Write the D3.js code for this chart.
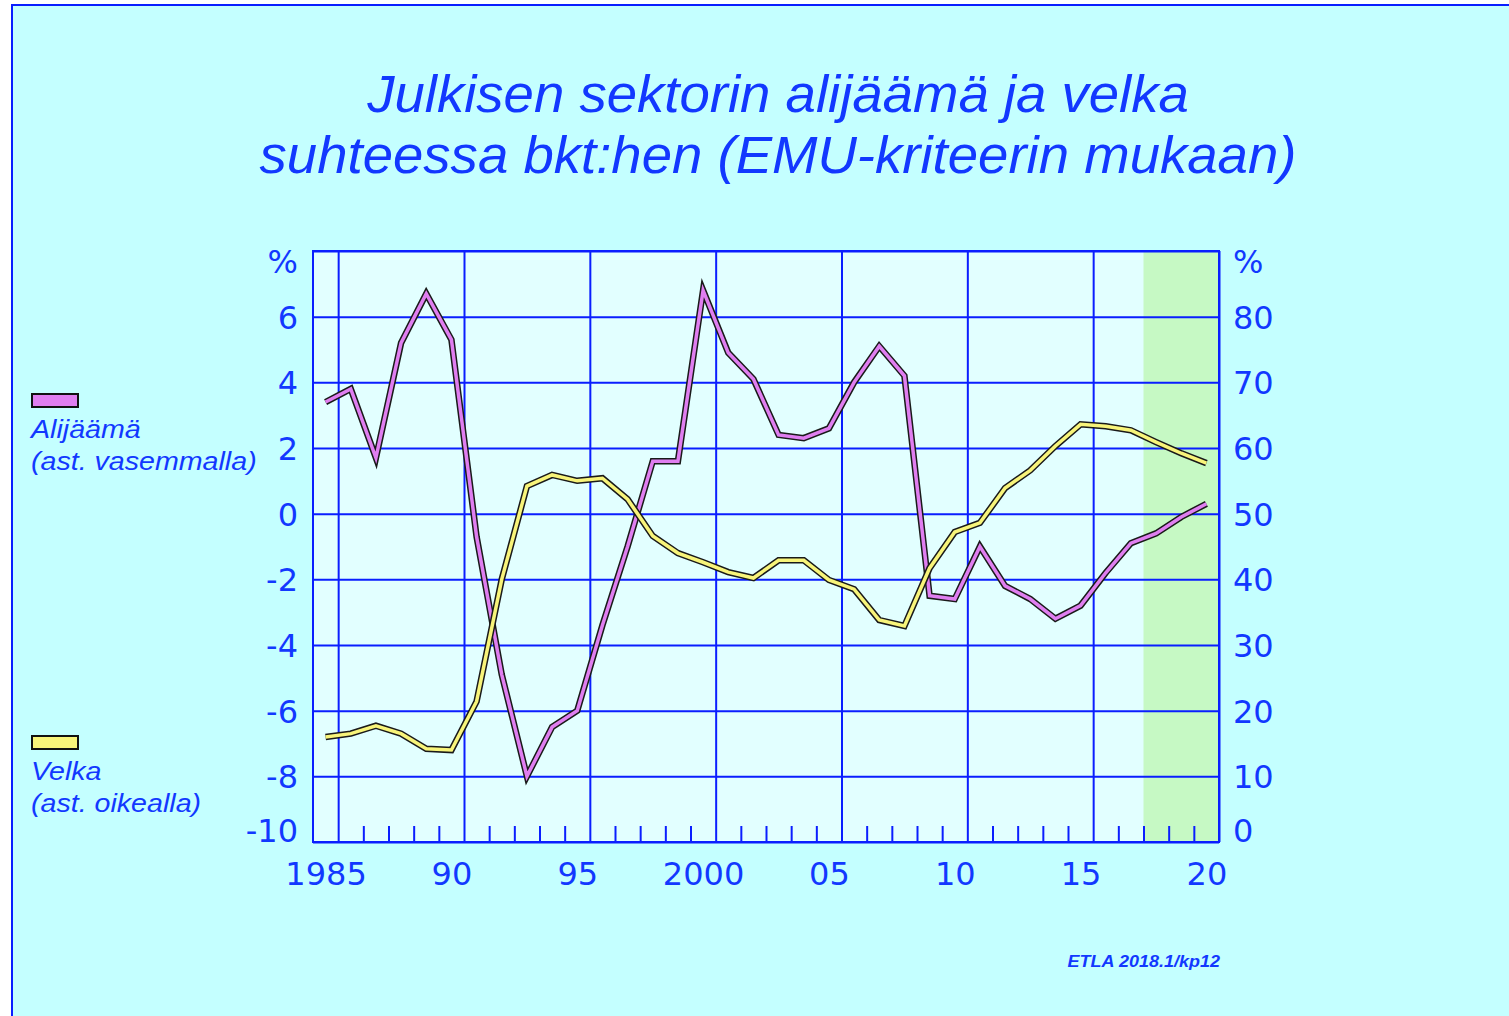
<!DOCTYPE html>
<html>
<head>
<meta charset="utf-8">
<script src="https://cdn.jsdelivr.net/npm/d3@7"></script>
<style>
  body { margin: 0; background: #ffffff; }
  svg { display: block; }
</style>
</head>
<body>
<div id="chart"></div>
<script>
const width = 1509;
const height = 1016;
const plot = { left: 313, right: 1219, top: 251, bottom: 842 };

// Data
const years = d3.range(1985, 2021);
const alijaama = [3.4, 3.8, 1.7, 5.2, 6.7, 5.3, -0.7, -4.9, -8.0, -6.5,
  -6.0, -3.4, -1.0, 1.6, 1.6, 6.8, 4.9, 4.1, 2.4, 2.3,
  2.6, 4.0, 5.1, 4.2, -2.5, -2.6, -1.0, -2.2, -2.6, -3.2,
  -2.8, -1.8, -0.9, -0.6, -0.1, 0.3];
const velka = [16.0, 16.5, 17.7, 16.5, 14.2, 14.0, 21.4, 40.0, 54.2, 55.9,
  55.0, 55.4, 52.2, 46.6, 44.0, 42.6, 41.1, 40.2, 42.9, 42.9,
  39.9, 38.5, 33.8, 32.9, 41.7, 47.2, 48.6, 53.9, 56.6, 60.3,
  63.6, 63.3, 62.7, 60.9, 59.2, 57.7];
const forecastStart = 2018;
const leftTicks = [-10, -8, -6, -4, -2, 0, 2, 4, 6, 8];
const rightTicks = [0, 10, 20, 30, 40, 50, 60, 70, 80, 90];
const yearLabels = [1985, 1990, 1995, 2000, 2005, 2010, 2015, 2020];
const titleLines = ["Julkisen sektorin alijäämä ja velka", "suhteessa bkt:hen (EMU-kriteerin mukaan)"];
const legendItems = [
  { name: "Alijäämä", note: "(ast. vasemmalla)", color: "#e07ef0" },
  { name: "Velka", note: "(ast. oikealla)", color: "#f8f47a" }
];
const source = "ETLA 2018.1/kp12";

const blue = "#0a1eff";
const textBlue = "#1238ff";
const textFont = "'Liberation Sans', Arial, sans-serif";

const svg = d3.select("#chart")
  .append("svg")
  .attr("width", width)
  .attr("height", height);

// background + frame
svg.append("rect")
  .attr("x", 12).attr("y", 5)
  .attr("width", width).attr("height", height)
  .attr("fill", "#c4ffff")
  .attr("stroke", blue).attr("stroke-width", 2);

// Scales: each year sits in the middle of its own slot
const x = d3.scaleLinear().domain([1984.5, 2020.5]).range([plot.left, plot.right]);
const yL = d3.scaleLinear().domain([-10, 8]).range([plot.bottom, plot.top]);
const yR = d3.scaleLinear().domain([0, 90]).range([plot.bottom, plot.top]);

// plot area
svg.append("rect")
  .attr("x", plot.left).attr("y", plot.top)
  .attr("width", plot.right - plot.left).attr("height", plot.bottom - plot.top)
  .attr("fill", "#e2ffff");

// forecast shading
svg.append("rect")
  .attr("x", x(forecastStart - 0.5)).attr("y", plot.top)
  .attr("width", x(2020.5) - x(forecastStart - 0.5)).attr("height", plot.bottom - plot.top)
  .attr("fill", "#c6f9c4");

// horizontal gridlines
svg.append("g")
  .attr("transform", `translate(${plot.left},0)`)
  .call(d3.axisLeft(yL).tickValues(leftTicks).tickFormat("").tickSize(-(plot.right - plot.left)))
  .call(g => g.select(".domain").remove())
  .selectAll("line").attr("stroke", blue).attr("stroke-width", 2);

// vertical gridlines every 5 years (at year ends)
svg.append("g")
  .attr("transform", `translate(0,${plot.bottom})`)
  .call(d3.axisBottom(x).tickValues(yearLabels.map(d => d + 0.5)).tickFormat("").tickSize(-(plot.bottom - plot.top)))
  .call(g => g.select(".domain").remove())
  .selectAll("line").attr("stroke", blue).attr("stroke-width", 2);

// minor year ticks
const minor = d3.range(1985.5, 2020, 1).filter(d => (d - 0.5) % 5 !== 0);
svg.append("g")
  .attr("transform", `translate(0,${plot.bottom})`)
  .call(d3.axisBottom(x).tickValues(minor).tickFormat("").tickSize(-16))
  .call(g => g.select(".domain").remove())
  .selectAll("line").attr("stroke", blue).attr("stroke-width", 2);

// frame of plot
svg.append("rect")
  .attr("x", plot.left).attr("y", plot.top)
  .attr("width", plot.right - plot.left).attr("height", plot.bottom - plot.top)
  .attr("fill", "none").attr("stroke", blue).attr("stroke-width", 2);

// lines (black outline + coloured core)
const lineL = d3.line().x((d, i) => x(years[i])).y(d => yL(d));
const lineR = d3.line().x((d, i) => x(years[i])).y(d => yR(d));
const series = [
  { path: lineL(alijaama), color: legendItems[0].color },
  { path: lineR(velka), color: legendItems[1].color }
];
series.forEach(s => {
  svg.append("path").attr("d", s.path).attr("fill", "none")
    .attr("stroke", "#1a1a1a").attr("stroke-width", 6.5).attr("stroke-linejoin", "miter");
  svg.append("path").attr("d", s.path).attr("fill", "none")
    .attr("stroke", s.color).attr("stroke-width", 3.5).attr("stroke-linejoin", "miter");
});

// axis labels
const tickFont = "'DejaVu Sans', sans-serif";
function styleLabels(g) {
  g.select(".domain").remove();
  g.selectAll("line").remove();
  g.selectAll("text")
    .attr("fill", textBlue)
    .attr("font-family", tickFont)
    .attr("font-size", 32);
}

const leftAxis = svg.append("g")
  .attr("transform", `translate(${plot.left},0)`)
  .call(d3.axisLeft(yL).tickValues(leftTicks).tickSize(0).tickPadding(15)
    .tickFormat(d => d === 8 ? "%" : d))
  .call(styleLabels);
leftAxis.selectAll("text").attr("dy", "0.36em")
  .attr("y", d => d === 8 ? 10 : d === -10 ? -12 : 0);

const rightAxis = svg.append("g")
  .attr("transform", `translate(${plot.right},0)`)
  .call(d3.axisRight(yR).tickValues(rightTicks).tickSize(0).tickPadding(14)
    .tickFormat(d => d === 90 ? "%" : d))
  .call(styleLabels);
rightAxis.selectAll("text").attr("dy", "0.36em")
  .attr("y", d => d === 90 ? 10 : d === 0 ? -12 : 0);

const bottomAxis = svg.append("g")
  .attr("transform", `translate(0,${plot.bottom})`)
  .call(d3.axisBottom(x).tickValues(yearLabels).tickSize(0)
    .tickFormat(d => (d === 1985 || d === 2000) ? String(d) : String(d % 100).padStart(2, "0")))
  .call(styleLabels);
bottomAxis.selectAll("text").attr("dy", null).attr("y", 43);

// title (the original face is a little wider than Arial)
svg.append("g").selectAll("text")
  .data(titleLines)
  .join("text")
  .attr("text-anchor", "middle")
  .attr("transform", (d, i) => `translate(778,${112 + i * 61}) scale(1.07,1)`)
  .attr("font-family", textFont)
  .attr("font-style", "italic")
  .attr("font-size", 51)
  .attr("fill", textBlue)
  .text(d => d);

// legend
const legendY = [394, 736];
legendItems.forEach((item, i) => {
  const g = svg.append("g").attr("transform", `translate(32,${legendY[i]})`);
  g.append("rect").attr("width", 46).attr("height", 13)
    .attr("fill", item.color).attr("stroke", "#111").attr("stroke-width", 2);
  [item.name, item.note].forEach((t, j) => {
    g.append("text")
      .attr("transform", `translate(-1,${44 + j * 32}) scale(1.1,1)`)
      .attr("font-family", textFont)
      .attr("font-style", "italic")
      .attr("font-size", 26)
      .attr("fill", textBlue)
      .text(t);
  });
});

// source note
svg.append("text")
  .attr("transform", "translate(1220,967) scale(1.06,1)")
  .attr("text-anchor", "end")
  .attr("font-family", textFont)
  .attr("font-style", "italic")
  .attr("font-weight", "bold")
  .attr("font-size", 17)
  .attr("fill", textBlue)
  .text(source);
</script>
</body>
</html>
